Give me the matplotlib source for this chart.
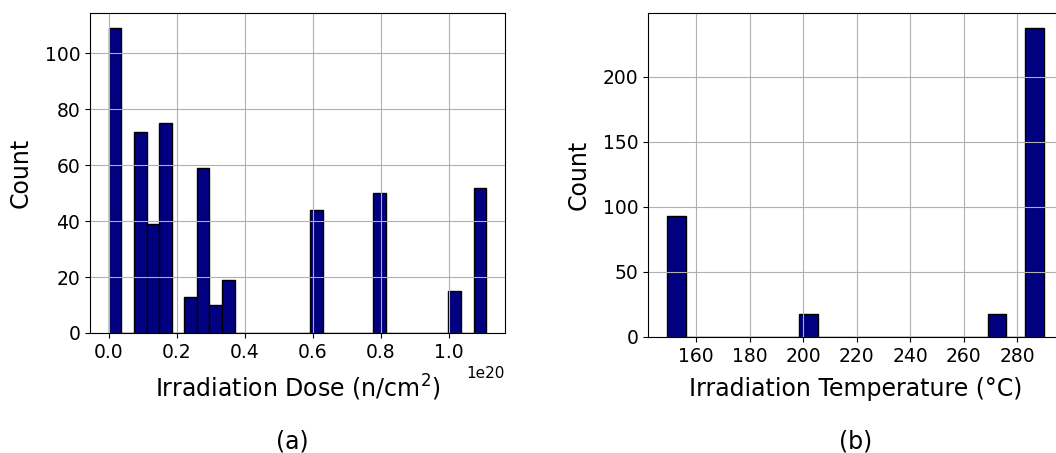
import numpy as np
import matplotlib
matplotlib.use("Agg")
import matplotlib.pyplot as plt
from matplotlib.ticker import MultipleLocator

# histogram counts
dose_lo, dose_hi = 0.0, 1.11e20          # n/cm^2, 30 equal bins
dose_counts = [109, 0, 72, 39, 75, 0, 13, 59, 10, 19,
               0, 0, 0, 0, 0, 0, 44, 0, 0, 0,
               0, 50, 0, 0, 0, 0, 0, 15, 0, 52]

temp_lo, temp_hi = 149.0, 290.0          # deg C, 20 equal bins
temp_counts = [93, 0, 0, 0, 0, 0, 0, 18, 0, 0,
               0, 0, 0, 0, 0, 0, 0, 18, 0, 237]

W, H = 1056, 453
fig = plt.figure(figsize=(W / 100, H / 100), dpi=100)

def px_axes(x0, y_top, w, y_bot):
    return fig.add_axes([x0 / W, 1 - y_bot / H, w / W, (y_bot - y_top) / H])

ax1 = px_axes(90, 13, 415, 333)
ax2 = px_axes(648, 13, 415, 337)

def draw_hist(ax, lo, hi, counts):
    edges = np.linspace(lo, hi, len(counts) + 1)
    centers = 0.5 * (edges[:-1] + edges[1:])
    ax.hist(centers, bins=edges, weights=counts, color="navy", edgecolor="black")
    ax.grid(True)
    ax.tick_params(labelsize=13.5)
    ax.set_ylabel("Count", fontsize=17, labelpad=9)

draw_hist(ax1, dose_lo, dose_hi, dose_counts)
ax1.set_xlabel("Irradiation Dose (n/cm$^2$)", fontsize=17, labelpad=8)
ax1.xaxis.get_offset_text().set_fontsize(11)

draw_hist(ax2, temp_lo, temp_hi, temp_counts)
ax2.xaxis.set_major_locator(MultipleLocator(20))
ax2.set_xlabel("Irradiation Temperature (°C)", fontsize=17, labelpad=8)

fig.text(292 / W, 1 - 441 / H, "(a)", fontsize=17, ha="center", va="center")
fig.text(856 / W, 1 - 441 / H, "(b)", fontsize=17, ha="center", va="center")

fig.savefig("out.png", dpi=100)
